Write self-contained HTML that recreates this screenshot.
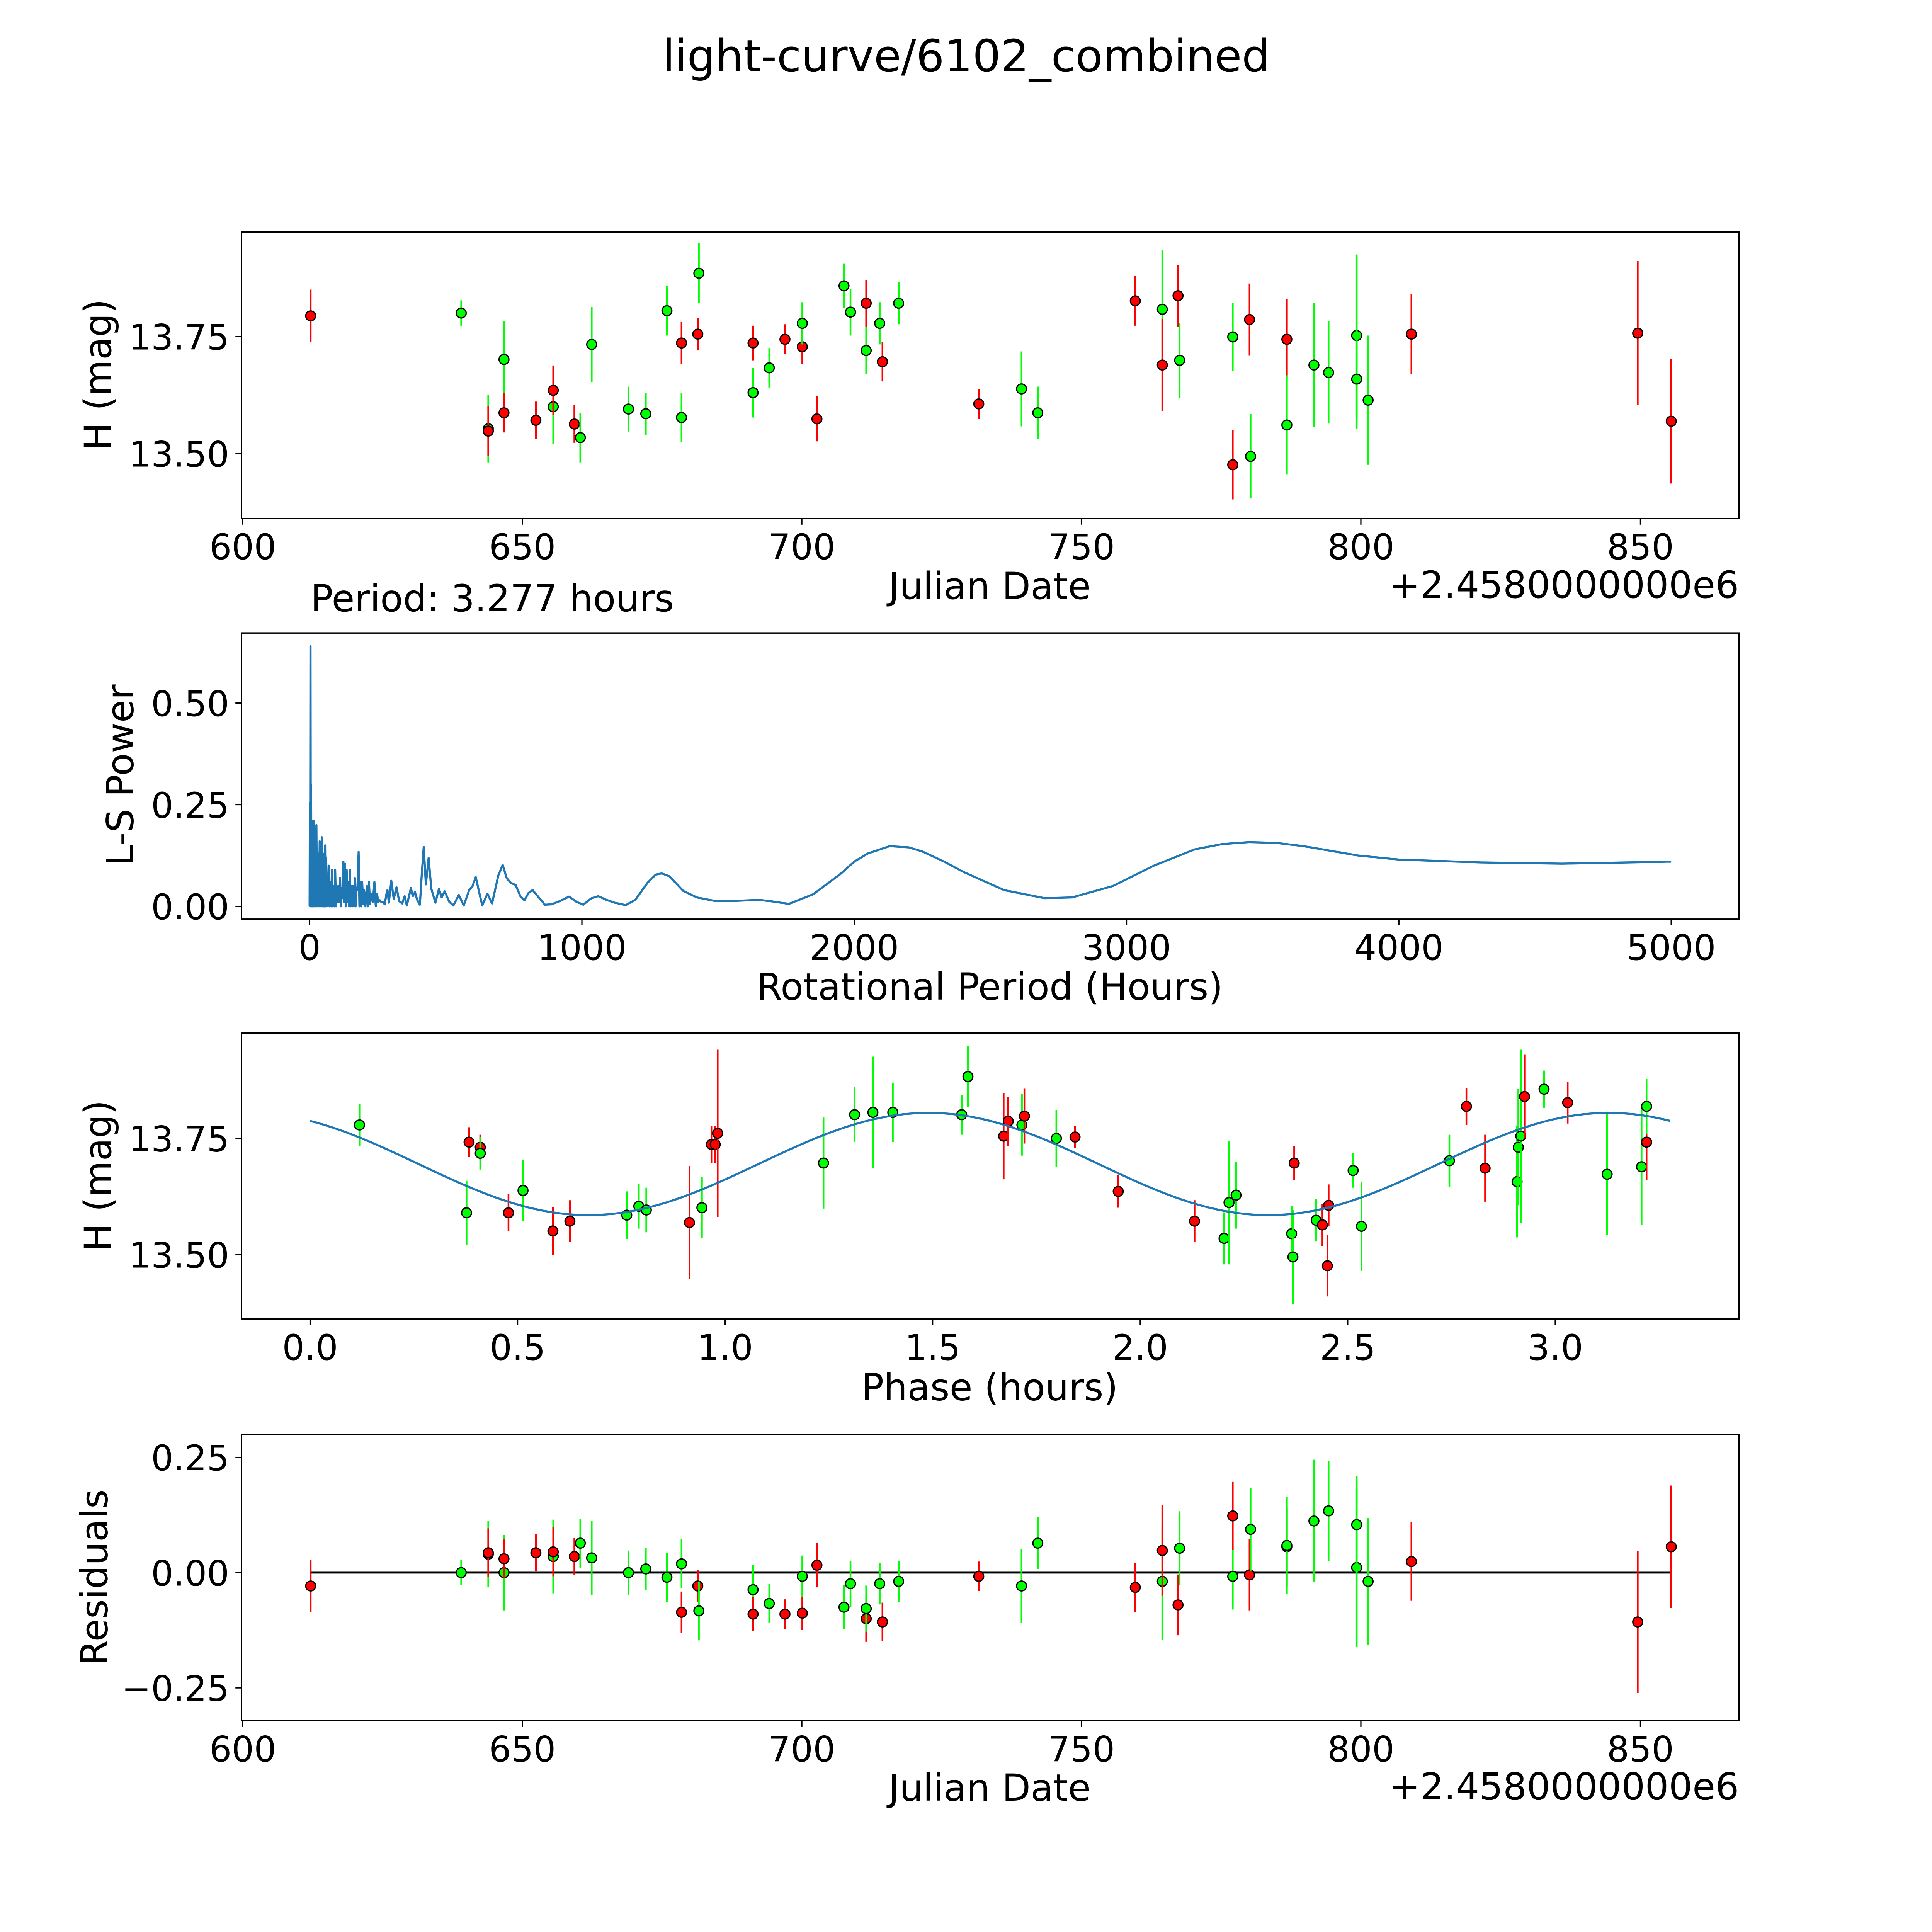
<!DOCTYPE html>
<html><head><meta charset="utf-8"><title>light-curve/6102_combined</title>
<style>html,body{margin:0;padding:0;background:#fff;overflow:hidden}svg{display:block}text{font-family:"DejaVu Sans","Liberation Sans",sans-serif;fill:#000}</style>
</head><body>
<svg id="fig" xmlns="http://www.w3.org/2000/svg" width="5400" height="5400" viewBox="0 0 1693 1693">
<rect x="0" y="0" width="1693" height="1693" fill="#fff"/>
<text x="784" y="58" font-size="36" text-anchor="middle">light-curve/6102_combined</text>
<g id="p1"></g>
<g id="p2"></g>
<g id="p3"></g>
<g id="p4"></g>
<text x="252" y="496" font-size="30.2">Period: 3.277 hours</text>
</svg>
<script>
// ---- light curve data ----
const jd = [612.14,639.07,643.91,643.91,646.72,646.72,652.43,655.53,655.53,659.31,660.37,662.41,668.99,672.09,675.87,678.48,678.48,681.39,681.58,691.27,691.27,694.17,696.98,700.08,700.08,702.70,707.54,708.70,711.51,711.51,713.93,714.42,717.32,731.65,739.30,742.21,759.64,764.48,764.48,767.29,767.58,777.08,777.08,780.08,780.27,786.76,786.76,791.60,794.22,799.25,799.25,801.29,809.04,849.52,855.52];
const mag = [13.794,13.800,13.553,13.548,13.701,13.587,13.571,13.600,13.635,13.563,13.534,13.733,13.595,13.585,13.805,13.736,13.577,13.755,13.885,13.630,13.736,13.683,13.744,13.728,13.778,13.574,13.858,13.802,13.821,13.720,13.778,13.696,13.821,13.606,13.638,13.587,13.826,13.808,13.689,13.837,13.699,13.749,13.476,13.786,13.494,13.744,13.561,13.689,13.673,13.752,13.659,13.614,13.755,13.757,13.569];
const magErr = [.056,.027,.072,.053,.082,.042,.040,.080,.053,.040,.053,.080,.048,.045,.053,.045,.053,.035,.064,.053,.037,.042,.032,.037,.045,.048,.048,.050,.050,.050,.045,.042,.045,.032,.080,.056,.053,.127,.098,.066,.080,.072,.074,.077,.090,.085,.106,.133,.109,.173,.106,.138,.085,.154,.133];
const filt = ['r','g','g','r','g','r','r','g','r','r','g','g','g','g','g','r','g','r','g','g','r','g','r','r','g','r','g','g','r','g','g','r','g','r','g','g','r','g','r','r','g','g','r','r','g','r','g','g','g','g','g','g','r','r','r'];
const resid = [-0.029,0.000,0.040,0.043,0.000,0.030,0.043,0.035,0.045,0.035,0.064,0.032,0.000,0.008,-0.010,-0.086,0.019,-0.029,-0.083,-0.037,-0.090,-0.067,-0.090,-0.088,-0.008,0.016,-0.075,-0.024,-0.100,-0.078,-0.024,-0.107,-0.019,-0.008,-0.029,0.064,-0.032,-0.019,0.048,-0.070,0.053,-0.008,0.123,-0.005,0.094,0.056,0.059,0.112,0.134,0.011,0.104,-0.019,0.024,-0.107,0.056];
// ---- periodogram: [period hours, power] ----
const lsNoise = [[0,0],[1,.255],[2,0],[3.3,.64],[4.5,0],[5.5,.30],[7,0],[9,.21],[11,0],[13,.16],[15,0],[17,.21],[19,0],[21,.12],[23,0],[25,.20],[27,0],[29,.10],[31,0],[33,.13],[35,0],[37,.16],[39,0],[41,.08],[43,0],[45,.17],[47,0],[49,.13],[51,0],[53,.09],[55,0],[57,.15],[59,0],[61,.12],[63,0],[65,.07],[67,.01],[70,.10],[73,0],[76,.06],[79,0],[82,.09],[85,0],[88,.05],[91,0],[94,.09],[97,0],[100,.05],[103,.01],[106,.05],[109,.01],[112,.07],[115,0],[118,.045],[121,.02],[124,.11],[127,.01],[130,.105],[133,0],[136,.09],[139,.01],[142,.06],[145,0],[148,.09],[151,0],[154,.05],[157,0],[160,.05],[163,0],[166,.07],[169,0],[172,.045],[175,.04],[178,.08],[180,.134],[183,0],[187,.06],[190,0],[193,.06],[197,.005],[200,.04],[205,0],[210,.05],[214,0],[218,.06],[222,.005],[226,.03],[232,.01],[238,.06],[243,0],[248,.03],[252,.01],[258,.015],[264,.01],[270,.01],[276,.005],[282,.03],[286,.04]];
const lsMid = [[291,.009],[300,.063],[309,.018],[319,.047],[329,.013],[340,.007],[349,.025],[357,.002],[372,.045],[379,.025],[387,.035],[395,.016],[405,.004],[412,.08],[419,.146],[427,.054],[437,.119],[447,.043],[462,.009],[475,.043],[485,.022],[496,.037],[513,.011],[528,.002],[548,.028],[566,.002],[586,.040],[598,.049],[610,.072],[623,.034],[634,.002],[653,.031],[670,.007],[693,.076],[709,.102],[724,.069],[739,.058],[757,.052],[774,.025],[789,.015],[804,.033],[819,.040],[839,.024],[864,.004],[889,.005],[919,.013],[953,.024],[980,.011],[1005,.004],[1035,.020],[1060,.025],[1090,.016],[1120,.009],[1161,.003],[1196,.016],[1241,.058],[1271,.078],[1293,.081],[1321,.074],[1372,.038],[1422,.022],[1490,.013]];
const lsTail = [[1550,.013],[1650,.016],[1700,.012],[1760,.006],[1850,.03],[1950,.08],[2000,.11],[2050,.13],[2130,.148],[2200,.145],[2250,.135],[2330,.11],[2400,.085],[2550,.04],[2700,.02],[2800,.022],[2950,.05],[3100,.10],[3250,.14],[3350,.153],[3450,.158],[3550,.156],[3650,.148],[3850,.125],[4000,.115],[4300,.108],[4600,.105],[5000,.11]];
// ---- phase-folded data ----
const phase = [0.119,0.377,0.383,0.410,0.410,0.478,0.513,0.585,0.626,0.763,0.792,0.810,0.914,0.944,0.967,0.976,0.982,1.237,1.312,1.356,1.404,1.570,1.585,1.671,1.682,1.715,1.721,1.798,1.843,1.947,2.131,2.202,2.214,2.231,2.365,2.368,2.371,2.424,2.439,2.454,2.451,2.513,2.533,2.745,2.786,2.831,2.908,2.911,2.917,2.926,2.973,3.030,3.125,3.208,3.220,3.220];
const phaseMag = [13.779,13.590,13.742,13.731,13.718,13.590,13.638,13.551,13.572,13.585,13.604,13.596,13.569,13.601,13.737,13.737,13.761,13.697,13.801,13.806,13.806,13.801,13.883,13.755,13.787,13.779,13.798,13.750,13.753,13.636,13.572,13.535,13.612,13.628,13.545,13.495,13.697,13.574,13.564,13.606,13.476,13.681,13.561,13.702,13.819,13.686,13.657,13.731,13.755,13.840,13.856,13.827,13.673,13.689,13.742,13.819];
const phaseErr = [.045,.069,.032,.027,.035,.040,.066,.051,.045,.051,.048,.048,.122,.066,.040,.040,.180,.098,.059,.120,.064,.043,.066,.093,.053,.066,.059,.061,.024,.035,.045,.056,.133,.072,.059,.101,.037,.045,.045,.045,.066,.037,.096,.056,.040,.072,.120,.125,.186,.090,.040,.045,.130,.125,.082,.059];
const phaseFilt = ['g','g','r','r','g','r','g','r','r','g','g','g','r','g','r','r','r','g','g','g','g','g','g','r','r','g','r','g','r','r','r','g','g','g','g','g','r','g','r','r','r','g','g','g','r','r','g','g','g','r','g','r','g','g','r','g'];
const fitMean = [13.695];
const fitAmp = [0.110];
const fitPeak = [1.49];
const fitPeriod = [3.277];
const ticks1 = [600,650,700,750,800,850];
const ticks1y = [13.50,13.75];
const ticks2 = [0,1000,2000,3000,4000,5000];
const ticks2y = [0,0.25,0.5];
const ticks3 = [0,0.5,1,1.5,2,2.5,3];
const ticks4y = [-0.25,0,0.25];

const NS='http://www.w3.org/2000/svg';
const COL={r:'#ff0000',g:'#00ff00'};
const LBL=30.2;
function mk(tag,parent,attrs){const e=document.createElementNS(NS,tag);for(const k in attrs)e.setAttribute(k,attrs[k]);parent.appendChild(e);return e;}
function scale(d0,d1,p0,p1){return v=>p0+(v-d0)*(p1-p0)/(d1-d0);}
const L=196,R=1411;
function frame(g,top,bot,name){
  const r=mk('rect',g,{x:L,y:top,width:R-L,height:bot-top,fill:'none',stroke:'#000','stroke-width':1.1});
  
  
}
function xticks(g,vals,sx,bot,fmt,name){
  vals.forEach(v=>{
    const x=sx(v);
    const t=mk('line',g,{x1:x,x2:x,y1:bot,y2:bot+5,stroke:'#000','stroke-width':1});
    
    
    const l=mk('text',g,{x:x,y:bot+33,'font-size':28.5,'text-anchor':'middle'});
    l.textContent=fmt(v);
    
    
  });
}
function yticks(g,vals,sy,fmt,name){
  vals.forEach(v=>{
    const y=sy(v);
    const t=mk('line',g,{x1:L-5,x2:L,y1:y,y2:y,stroke:'#000','stroke-width':1});
    
    
    const l=mk('text',g,{x:L-10,y:y+10.5,'font-size':28.5,'text-anchor':'end'});
    l.textContent=fmt(v);
    
    
  });
}
function label(g,txt,x,y,rot,name){
  const l=mk('text',g,{x:x,y:y,'font-size':LBL,'text-anchor':'middle'});
  if(rot)l.setAttribute('transform','rotate(-90 '+x+' '+y+')');
  l.textContent=txt;
  
  
}
function errpts(g,xs,ys,es,fs,sx,sy,name){
  xs.forEach((xv,i)=>{
    const x=sx(xv);
    const b=mk('line',g,{x1:x,x2:x,y1:sy(ys[i]-es[i]),y2:sy(ys[i]+es[i]),stroke:COL[fs[i]],'stroke-width':1.4});
    
    
    const c=mk('circle',g,{cx:x,cy:sy(ys[i]),r:4,fill:COL[fs[i]],stroke:'#000','stroke-width':1});
    
    
  });
}
const fmt2=v=>v.toFixed(2).replace('-','\u2212');
// Panel 1
(function(){
  const g=document.getElementById('p1');const top=188.3,bot=420.7;
  const sx=scale(600,850,197,1331), sy=scale(13.75,13.50,273,368);
  errpts(g,jd,mag,magErr,filt,sx,sy,'light-curve');
  frame(g,top,bot,'light-curve');
  xticks(g,ticks1,sx,bot,v=>String(v),'light-curve');
  yticks(g,ticks1y,sy,fmt2,'light-curve');
  label(g,'Julian Date',803,486,false,'light-curve-x-axis-title');
  label(g,'H (mag)',90,304,true,'light-curve-y-axis-title');
  const o=mk('text',g,{x:R,y:485,'font-size':LBL,'text-anchor':'end'});o.textContent='+2.4580000000e6';
  
  
})();
// Panel 2
(function(){
  const g=document.getElementById('p2');const top=513.6,bot=745.8;
  const sx=scale(0,5000,251.2,1356), sy=scale(0,0.5,735.4,570.4);
  const all=lsNoise.concat(lsMid,lsTail);
  const d=all.map((pt,i)=>(i?'L':'M')+sx(pt[0]).toFixed(2)+' '+sy(pt[1]).toFixed(2)).join(' ');
  const p=mk('path',g,{d:d,fill:'none',stroke:'#1f77b4','stroke-width':1.7,'stroke-linejoin':'round'});
  
  
  frame(g,top,bot,'periodogram');
  xticks(g,ticks2,sx,bot,v=>String(v),'periodogram');
  yticks(g,ticks2y,sy,fmt2,'periodogram');
  label(g,'Rotational Period (Hours)',803,811,false,'periodogram-x-axis-title');
  label(g,'L-S Power',108,629,true,'periodogram-y-axis-title');
})();
// Panel 3
(function(){
  const g=document.getElementById('p3');const top=838.2,bot=1070.2;
  const sx=scale(0,3,251.6,1261.9), sy=scale(13.75,13.50,923.7,1018);
  errpts(g,phase,phaseMag,phaseErr,phaseFilt,sx,sy,'phase');
  const pts=[];const N=300;
  for(let i=0;i<=N;i++){const ph=fitPeriod[0]*i/N;const m=fitMean[0]+fitAmp[0]*Math.cos(2*Math.PI*(ph-fitPeak[0])/(fitPeriod[0]/2));pts.push((i?'L':'M')+sx(ph).toFixed(2)+' '+sy(m).toFixed(2));}
  const c=mk('path',g,{d:pts.join(' '),fill:'none',stroke:'#1f77b4','stroke-width':1.7});
  
  
  frame(g,top,bot,'phase');
  xticks(g,ticks3,sx,bot,v=>v.toFixed(1),'phase');
  yticks(g,ticks1y,sy,fmt2,'phase');
  label(g,'Phase (hours)',803,1136,false,'phase-x-axis-title');
  label(g,'H (mag)',90,954,true,'phase-y-axis-title');
})();
// Panel 4
(function(){
  const g=document.getElementById('p4');const top=1163.9,bot=1396.1;
  const sx=scale(600,850,197,1331), sy=scale(0,0.25,1276,1182.5);
  const z=mk('line',g,{x1:sx(jd[0]),x2:sx(jd[jd.length-1]),y1:sy(0),y2:sy(0),stroke:'#000','stroke-width':1.5});
  
  
  errpts(g,jd,resid,magErr,filt,sx,sy,'residual');
  frame(g,top,bot,'residuals');
  xticks(g,ticks1,sx,bot,v=>String(v),'residuals');
  yticks(g,ticks4y,sy,fmt2,'residuals');
  label(g,'Julian Date',803,1461,false,'residuals-x-axis-title');
  label(g,'Residuals',87,1280,true,'residuals-y-axis-title');
  const o=mk('text',g,{x:R,y:1460,'font-size':LBL,'text-anchor':'end'});o.textContent='+2.4580000000e6';
  
  
})();
</script>
</body></html>
